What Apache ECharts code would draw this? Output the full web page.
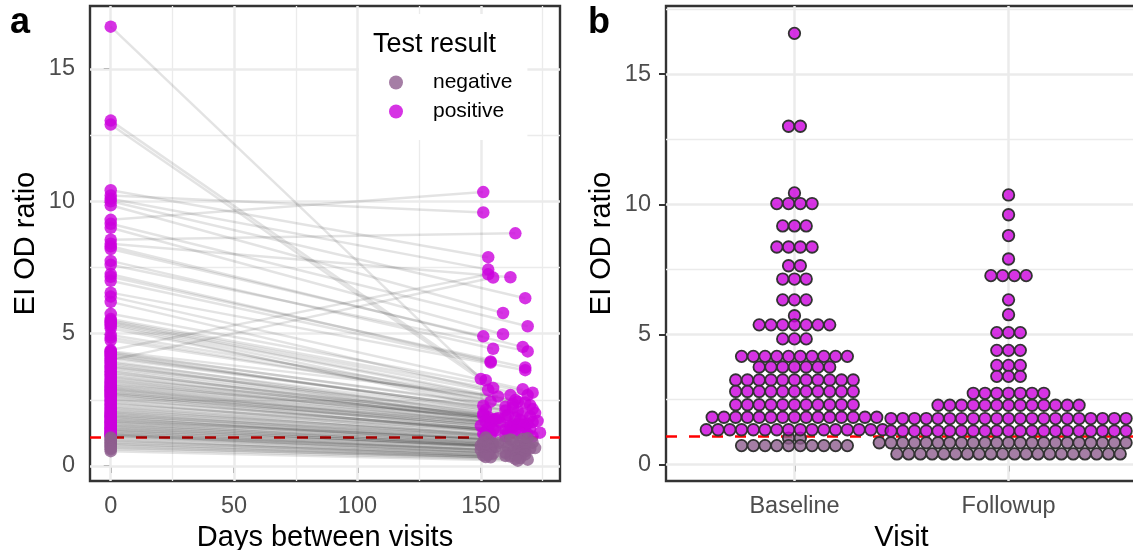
<!DOCTYPE html>
<html>
<head>
<meta charset="utf-8">
<style>
  html, body { margin: 0; padding: 0; background: #fff; }
  #chart { width: 1133px; height: 550px; }
</style>
<script src="https://cdn.jsdelivr.net/npm/echarts@6/dist/echarts.min.js"></script>
</head>
<body>
<div id="chart"></div>
<script>
// paired EI OD ratio per subject
var baselineVals = [16.6, 13.05, 12.9, 10.42, 10.22, 10.1, 10.0, 9.85, 9.3, 9.15, 9.0, 8.55, 8.4, 8.3, 8.2, 7.75, 7.6, 7.25, 7.15, 7.0, 6.55, 6.4, 6.2, 5.75, 5.55, 5.5, 5.45, 5.4, 5.35, 5.3, 5.2,
  4.95, 4.85, 4.75,
  4.38, 4.34, 4.3, 4.26, 4.22, 4.17, 4.12, 4.06, 4.0, 3.96,
  3.9, 3.85, 3.79, 3.74, 3.7, 3.63, 3.58,
  3.52, 3.47, 3.4, 3.36, 3.3, 3.26, 3.2, 3.16, 3.1, 3.06, 3.02,
  2.98, 2.95, 2.91, 2.88, 2.84, 2.8, 2.76, 2.73, 2.7, 2.66, 2.62,
  2.57, 2.52, 2.47, 2.42, 2.37, 2.32, 2.27, 2.22, 2.18, 2.13, 2.09,
  2.05, 2.02, 1.98, 1.95, 1.91, 1.88, 1.85, 1.81, 1.78, 1.75, 1.71, 1.68, 1.65, 1.62, 1.58,
  1.55, 1.52, 1.48, 1.45, 1.42, 1.39, 1.36, 1.33, 1.3, 1.27, 1.24, 1.21, 1.19, 1.16, 1.14, 1.12,
  1.08, 1.03, 0.98, 0.94, 0.9, 0.85, 0.82, 0.77, 0.73, 0.68, 0.63, 0.56];
var followupVals = [3.29, 3.24, 2.95, 7.89, 9.58, 7.42, 6.34, 5.78, 10.35, 5.28, 4.98, 8.79, 7.13, 4.5, 4.9, 4.43, 4.33, 3.95, 3.72, 3.91, 3.62, 2.9, 2.87, 2.77, 2.68, 2.68, 2.49, 2.43, 2.43, 2.28, 2.24,
  2.4, 2.35, 2.3,
  7.24, 2.63, 2.2, 2.15, 2.12, 2.1, 2.06, 2.0, 7.12, 1.98,
  1.96, 1.78, 1.92, 1.87, 1.7, 1.84, 1.64,
  1.9, 1.82, 1.6, 1.76, 1.85, 1.68, 1.74, 1.56, 1.8, 1.66, 1.62,
  1.58, 1.52, 1.49, 1.45, 1.43, 1.38, 1.55, 1.34, 1.41, 1.31, 1.47,
  1.28, 1.36, 1.26, 1.22, 1.2, 1.33, 1.17, 1.25, 1.14, 1.12, 1.11,
  1.08, 1.02, 0.98, 0.95, 1.05, 0.9, 0.96, 0.85, 0.92, 0.88, 0.8, 1.0, 0.83, 0.78, 0.86,
  0.75, 0.82, 0.7, 0.68, 0.77, 0.64, 0.72, 0.6, 0.66, 0.58, 0.62, 0.55, 0.52, 0.56, 0.5, 0.47,
  0.45, 0.42, 0.4, 0.36, 0.44, 0.33, 0.38, 0.3, 0.27, 0.34, 0.24, 0.2];
var followupDays = [150, 152, 155, 153, 151, 153, 168, 159, 151, 169, 159, 164, 162, 167, 151, 155, 169, 154, 168, 154, 168, 167, 153, 171, 169, 162, 164, 165, 154, 151, 160,
  168, 163, 170,
  153, 157, 163, 171, 152, 160, 165, 172, 155, 151,
  167, 156, 161, 170, 173, 153, 158,
  151, 164, 169, 155, 160, 152, 166, 163, 157, 171, 154,
  165, 150, 162, 168, 153, 160, 167, 156, 170, 152, 163,
  161, 155, 174, 151, 169, 164, 154, 166, 152, 160, 171,
  152, 167, 153, 160, 169, 151, 163, 155, 166, 171, 154, 162, 168, 150, 157,
  165, 151, 161, 172, 153, 167, 156, 150, 170, 163, 154, 168, 152, 165, 160, 155,
  166, 153, 151, 162, 168, 154, 160, 166, 164, 152, 169, 165];

// dotplot rows of panel b: bin value and number of dots
var baseRowVals = [16.57, 13.0, 10.44, 10.03, 9.17, 8.36, 7.64, 7.13, 6.33, 5.72, 5.37, 4.83, 4.16, 3.75, 3.25, 2.81, 2.30, 1.82, 1.34, 1.02, 0.73];
var baseRowCounts = [1, 2, 1, 4, 3, 4, 2, 3, 3, 1, 7, 3, 10, 7, 11, 11, 11, 15, 16, 2, 10];
var followRowVals = [10.36, 9.6, 8.8, 7.9, 7.26, 6.33, 5.76, 5.07, 4.39, 3.81, 3.39, 2.74, 2.28, 1.77, 1.29, 0.84, 0.41];
var followRowCounts = [1, 1, 1, 1, 4, 1, 1, 3, 3, 3, 3, 7, 13, 21, 21, 23, 20];

var cutoff = 1.1;
var visits = ['Baseline', 'Followup'];
var yTicks = [0, 5, 10, 15];
var yMinor = [2.5, 7.5, 12.5, 17.5];
var dayTicks = [0, 50, 100, 150];
var dayMinor = [25, 75, 125, 175];

var dotStep = 0.0549; // one dot width in visit units

var posColor = 'rgba(204,0,221,0.8)';
var negColor = 'rgba(142,94,142,0.8)';
var gridCol = '#ebebeb';
var tickText = { color: '#4d4d4d', fontSize: 23.5, fontFamily: 'Liberation Sans' };
var titleText = { color: '#000', fontSize: 29, fontFamily: 'Liberation Sans' };

var chart = echarts.init(document.getElementById('chart'));

// ggplot style background lines, drawn under all the marks
function backgroundSeries(idx, xMajor, xMinor, yMajor, yMin) {
  var lines = [];
  xMinor.forEach(function (v) { lines.push({ xAxis: v, lineStyle: { color: gridCol, width: 1.3, type: 'solid' } }); });
  yMin.forEach(function (v) { lines.push({ yAxis: v, lineStyle: { color: gridCol, width: 1.3, type: 'solid' } }); });
  xMajor.forEach(function (v) { lines.push({ xAxis: v, lineStyle: { color: gridCol, width: 2.5, type: 'solid' } }); });
  yMajor.forEach(function (v) { lines.push({ yAxis: v, lineStyle: { color: gridCol, width: 2.5, type: 'solid' } }); });
  lines.push({ yAxis: cutoff, lineStyle: { color: '#ff0000', width: 2.6, type: [11, 12] } });
  return {
    type: 'scatter', xAxisIndex: idx, yAxisIndex: idx, data: [], z: 1, silent: true,
    markLine: { z: 1, silent: true, animation: false, symbol: 'none', label: { show: false }, data: lines }
  };
}

function dotRows(rowVals, rowCounts, center, keep) {
  var out = [];
  rowVals.forEach(function (v, r) {
    if (!keep(v)) return;
    for (var i = 0; i < rowCounts[r]; i++) {
      out.push([center + (i - (rowCounts[r] - 1) / 2) * dotStep, v]);
    }
  });
  return out;
}

var isPos = function (v) { return v >= cutoff; };
var isNeg = function (v) { return v < cutoff; };

var pairLines = baselineVals.map(function (b, i) {
  return { coords: [[0, b], [followupDays[i], followupVals[i]]] };
});
var allPoints = baselineVals.map(function (b) { return [0, b]; })
  .concat(followupVals.map(function (f, i) { return [followupDays[i], f]; }));

function dotSeries(color, data, z) {
  return {
    type: 'scatter', xAxisIndex: 1, yAxisIndex: 1, z: z, silent: true,
    symbolSize: 11.5,
    itemStyle: { color: color, borderColor: '#333', borderWidth: 1.8, opacity: 1 },
    data: data
  };
}

function yAxisOpt(idx, min, max) {
  return {
    type: 'value', gridIndex: idx, min: min, max: max,
    name: 'EI OD ratio', nameLocation: 'middle', nameGap: 50, nameTextStyle: titleText,
    axisLine: { show: false },
    splitLine: { show: false },
    axisTick: { length: 7, lineStyle: { color: '#333', width: 2 }, customValues: yTicks },
    axisLabel: Object.assign({ margin: 15, padding: [6, 0, 0, 0], customValues: yTicks }, tickText)
  };
}

chart.setOption({
  animation: false,
  title: [
    { text: 'a', left: 5, top: 0, textStyle: { fontSize: 36, fontWeight: 'bold', color: '#000', fontFamily: 'Liberation Sans' } },
    { text: 'b', left: 583, top: 0, textStyle: { fontSize: 36, fontWeight: 'bold', color: '#000', fontFamily: 'Liberation Sans' } },
    { text: 'Test result', left: 368, top: 26, z: 20, textStyle: { fontSize: 27, fontWeight: 'normal', color: '#000', fontFamily: 'Liberation Sans' } }
  ],
  legend: {
    data: ['negative', 'positive'],
    orient: 'vertical',
    left: 359,
    top: 14,
    padding: [58, 15, 18, 30],
    itemWidth: 14,
    itemHeight: 14,
    itemGap: 8,
    icon: 'circle',
    backgroundColor: '#fff',
    z: 10,
    selectedMode: false,
    textStyle: { fontSize: 21, color: '#000', fontFamily: 'Liberation Sans', padding: [22, 0, 0, 25] }
  },
  grid: [
    { left: 90, top: 6, width: 470, height: 475, outerBoundsMode: 'none', show: true, borderColor: '#333', borderWidth: 2.4, backgroundColor: '#fff' },
    { left: 666, top: 6, width: 471, height: 475, outerBoundsMode: 'none', show: true, borderColor: '#333', borderWidth: 2.4, backgroundColor: '#fff' }
  ],
  xAxis: [
    {
      type: 'value', gridIndex: 0, min: -8.4, max: 182.1,
      name: 'Days between visits', nameLocation: 'middle', nameGap: 38, nameTextStyle: titleText,
      axisLine: { show: false },
      splitLine: { show: false },
      axisTick: { length: 7, lineStyle: { color: '#333', width: 2 }, customValues: dayTicks },
      axisLabel: Object.assign({ margin: 14, customValues: dayTicks }, tickText)
    },
    {
      type: 'value', gridIndex: 1, min: 0.4, max: 2.6,
      name: 'Visit', nameLocation: 'middle', nameGap: 38, nameTextStyle: titleText,
      axisLine: { show: false },
      splitLine: { show: false },
      axisTick: { length: 7, lineStyle: { color: '#333', width: 2 }, customValues: [1, 2] },
      axisLabel: Object.assign({
        margin: 14, customValues: [1, 2],
        formatter: function (v) { return visits[Math.round(v) - 1]; }
      }, tickText)
    }
  ],
  yAxis: [yAxisOpt(0, -0.567, 17.38), yAxisOpt(1, -0.63, 17.62)],
  series: [
    backgroundSeries(0, dayTicks, dayMinor, yTicks, yMinor),
    backgroundSeries(1, [1, 2], [], yTicks, yMinor),
    {
      type: 'lines', coordinateSystem: 'cartesian2d', xAxisIndex: 0, yAxisIndex: 0, z: 2, silent: true,
      lineStyle: { color: '#000', width: 2.5, opacity: 0.11 },
      data: pairLines
    },
    {
      name: 'positive', type: 'scatter', xAxisIndex: 0, yAxisIndex: 0, z: 3, silent: true,
      symbolSize: 12.5, itemStyle: { color: posColor, opacity: 1 },
      data: allPoints.filter(function (p) { return isPos(p[1]); })
    },
    {
      name: 'negative', type: 'scatter', xAxisIndex: 0, yAxisIndex: 0, z: 4, silent: true,
      symbolSize: 12.5, itemStyle: { color: negColor, opacity: 1 },
      data: allPoints.filter(function (p) { return isNeg(p[1]); })
    },
    dotSeries(negColor, dotRows(baseRowVals, baseRowCounts, 1, isNeg).concat(dotRows(followRowVals, followRowCounts, 2, isNeg)), 3),
    dotSeries(posColor, dotRows(baseRowVals, baseRowCounts, 1, isPos).concat(dotRows(followRowVals, followRowCounts, 2, isPos)), 4)
  ]
});
</script>
</body>
</html>
